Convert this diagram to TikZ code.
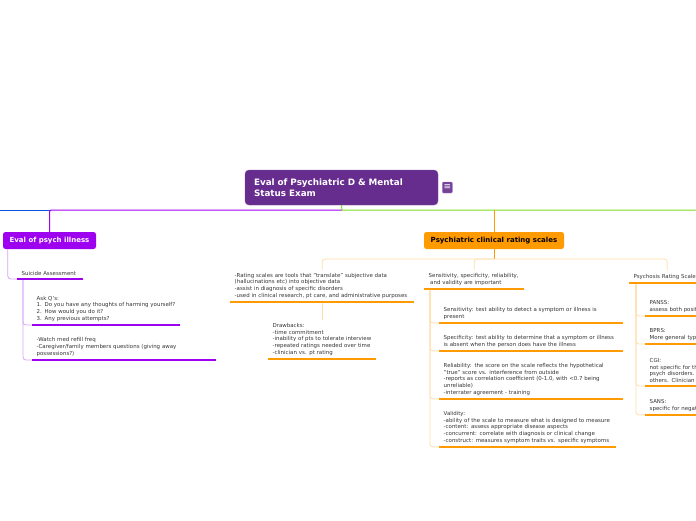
\documentclass[tikz,border=0pt]{standalone}
\usepackage{fontspec}
\setmainfont{DejaVu Sans}
\usetikzlibrary{positioning}
\definecolor{titlepurple}{HTML}{662D8F}
\definecolor{illpurple}{HTML}{9E00F0}
\definecolor{lightpurple}{HTML}{D7A3F5}
\definecolor{scaleorange}{HTML}{FF9A00}
\definecolor{lightorange}{HTML}{FFDDA8}
\definecolor{trunkgreen}{HTML}{80DE20}
\definecolor{trunkblue}{HTML}{0B50E0}
\definecolor{textgray}{HTML}{333333}

\begin{document}
\begin{tikzpicture}[
        x=1pt, y=-1pt,
        central/.style={rectangle, fill=titlepurple, draw=titlepurple!85!white, rounded corners=4pt, text=white, text width=175pt, align=left, minimum height=35pt, inner xsep=9pt, font=\fontsize{8.8}{11}\selectfont\bfseries},
        menuicon/.style={rectangle, fill=titlepurple!90!white, draw=titlepurple!60!white, rounded corners=1pt, minimum width=10pt, minimum height=11pt, inner sep=0pt, text=white, font=\fontsize{9}{9}\selectfont},
        mainbox/.style={rectangle, rounded corners=2.5pt, minimum height=17pt, inner sep=0pt, font=\fontsize{7}{8}\selectfont\bfseries},
        topic/.style={anchor=south west, text width=#1, align=left, inner xsep=4.5pt, inner ysep=3.5pt, text=textgray, font=\fontsize{5.45}{6.6}\selectfont},
        trunk/.style={draw, line width=1pt},
        plink/.style={draw=lightpurple, line width=0.8pt, rounded corners=3pt},
        olink/.style={draw=lightorange, line width=0.8pt, rounded corners=3pt},
        puline/.style={draw=illpurple, line width=2.6pt},
        ouline/.style={draw=scaleorange, line width=2.6pt}
    ]
    \useasboundingbox (0,0) rectangle (696,520);
    \clip (0,0) rectangle (696,520);
    % centre topic
    \node [central] (title) at (341.5,187.5) {Eval of Psychiatric D \& Mental\\Status Exam};
    \node [menuicon, right=4pt of title] (menu) {≡};
    \coordinate (trunk) at (342,210);
    \coordinate (lend) at (0,210);
    \coordinate (rend) at (696,210);
    % main branches
    \node [mainbox, fill=illpurple, text=white, minimum width=93pt] (illness) at (49.5,240.5) {Eval of psych illness};
    \node [mainbox, fill=scaleorange, text=black, minimum width=140pt] (crs) at (494,240.5) {Psychiatric clinical rating scales};
    \coordinate (hub) at (494,259);
    % suicide assessment
    \node [topic=57pt] (sa) at (17,279) {Suicide Assessment};
    \node [topic=139pt] (askq) at (32,325) {Ask Q's:\\1. Do you have any thoughts of harming yourself?\\2. How would you do it?\\3. Any previous attempts?};
    \node [topic=175pt] (watch) at (32,360) {-Watch med refill freq\\-Caregiver/family members questions (giving away\\possessions?)};
    % rating scales
    \node [topic=175pt] (rating) at (230,302) {-Rating scales are tools that "translate" subjective data\\(hallucinations etc) into objective data\\-assist in diagnosis of specific disorders\\-used in clinical research, pt care, and administrative purposes};
    \node [topic=99pt] (drawbacks) at (268,359) {Drawbacks:\\-time commitment\\-inability of pts to tolerate interview\\-repeated ratings needed over time\\-clinician vs. pt rating};
    \node [topic=91pt] (sens0) at (424,289) {Sensitivity, specificity, reliability,\\\hspace*{1.5pt}and validity are important};
    \node [topic=175pt] (sens) at (439,323) {Sensitivity: test ability to detect a symptom or illness is\\present};
    \node [topic=175pt] (spec) at (439,351) {Specificity: test ability to determine that a symptom or illness\\is absent when the person does have the illness};
    \node [topic=175pt] (rel) at (439,399) {Reliability: the score on the scale reflects the hypothetical\\"true" score vs. interference from outside\\-reports as correlation coefficient (0-1.0, with <0.7 being\\unreliable)\\-interrater agreement - training};
    \node [topic=168pt] (val) at (439,447) {Validity:\\-ability of the scale to measure what is designed to measure\\-content: assess appropriate disease aspects\\-concurrent: correlate with diagnosis or clinical change\\-construct: measures symptom traits vs. specific symptoms};
    % psychosis scales
    \node [topic=67pt] (prs) at (629,283) {Psychosis Rating Scales};
    \node [topic=80pt] (panss) at (645,316) {PANSS:\\assess both posit};
    \node [topic=80pt] (bprs) at (645,344) {BPRS:\\More general typ};
    \node [topic=80pt] (cgi) at (645,386) {CGI:\\not specific for th\\psych disorders.\\others. Clinician};
    \node [topic=80pt] (sans) at (645,415) {SANS:\\specific for negat};
    % trunk
    \draw [trunk, trunkblue] (illness.north |- trunk) -- (lend);
    \draw [trunk, illpurple, rounded corners=2pt] (trunk) -| (illness.north);
    \draw [trunk, trunkgreen] (title.south) -- (trunk) -- (rend);
    \draw [trunk, scaleorange, rounded corners=2pt] (crs.north) -- (crs.north |- trunk);
    % connectors
    \path [plink] ([xshift=5pt]illness.south west) |- (sa.south west);
    \path [plink] ([xshift=6pt]sa.south west) |- (askq.south west);
    \path [plink] ([xshift=6pt]sa.south west) |- (watch.south west);
    \path [trunk, draw=scaleorange] (crs.south) -- (hub);
    \path [olink] (hub) -| (rating.north);
    \path [olink] (hub) -| (sens0.north);
    \path [olink] (hub) -| (prs.north);
    \path [olink] (rating.south) -- (drawbacks.north);
    \foreach \n in {sens,spec,rel,val}
        \path [olink] ([xshift=6pt]sens0.south west) |- (\n.south west);
    \foreach \n in {panss,bprs,cgi,sans}
        \path [olink] ([xshift=7pt]prs.south west) |- (\n.south west);
    % underlines
    \foreach \n in {sa,askq,watch}
        \draw [puline] (\n.south west) -- (\n.south east);
    \foreach \n in {rating,drawbacks,sens0,sens,spec,rel,val,prs,panss,bprs,cgi,sans}
        \draw [ouline] (\n.south west) -- (\n.south east);
    \end{tikzpicture}
\end{document}
